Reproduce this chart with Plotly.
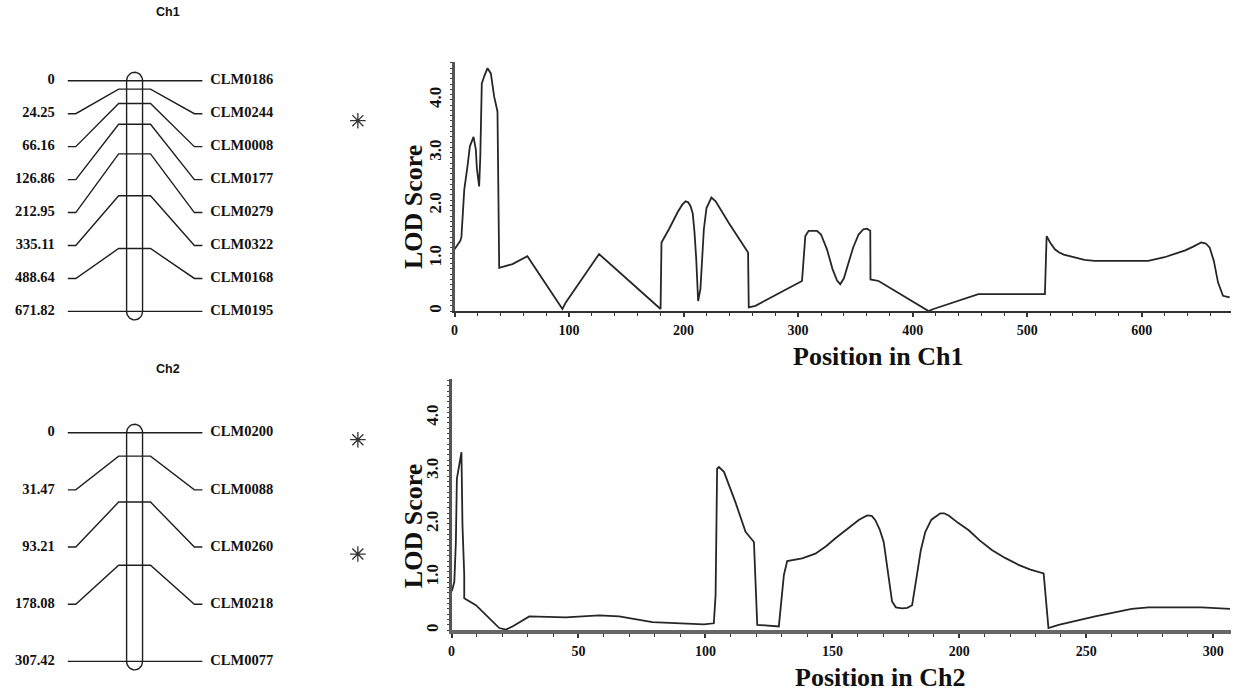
import math
import plotly.graph_objects as go

W, H = 1236, 692

# ---------------- data ----------------
ch1_markers = ["CLM0186", "CLM0244", "CLM0008", "CLM0177", "CLM0279", "CLM0322", "CLM0168", "CLM0195"]
ch1_pos = [0, 24.25, 66.16, 126.86, 212.95, 335.11, 488.64, 671.82]
ch2_markers = ["CLM0200", "CLM0088", "CLM0260", "CLM0218", "CLM0077"]
ch2_pos = [0, 31.47, 93.21, 178.08, 307.42]
qtl_flags_ch1 = ["CLM0244"]
qtl_flags_ch2 = ["CLM0200", "CLM0260"]

ch1_lod_x = [0, 5, 6, 8.5, 11.3, 13.4, 16.6, 18.6, 19.5, 21.5, 22.5, 23.8, 26, 28.8, 31.7, 34.6, 37.5,
             38.5, 39, 50.6, 63.6, 94.2, 97, 126.2, 179.9, 180.7, 187.2, 195, 199, 201.7, 204, 206,
             208, 209.5, 211, 212.7, 214.7, 217.7, 220, 224.3, 228, 239.5, 254, 256.3, 256.9, 262.7,
             303.4, 306.3, 309.2, 316.5, 320, 325.2, 330, 334, 336.8, 340, 344.1, 348, 352.8, 357,
             360.1, 363, 363.2, 370.3, 413.9, 418.2, 457.4, 515.5, 517, 520, 524.2, 528, 532, 541.7,
             550, 559, 580, 605.7, 620, 628.9, 638, 645, 652, 656, 659.4, 663, 666.7, 671, 676.8]
ch1_lod_y = [1.17, 1.33, 1.40, 2.30, 2.74, 3.12, 3.30, 3.06, 2.70, 2.36, 2.93, 4.31, 4.45, 4.60, 4.50,
             4.06, 3.78, 2.00, 0.82, 0.89, 1.04, 0.04, 0.16, 1.08, 0.04, 1.30, 1.55, 1.88, 2.02, 2.08,
             2.06, 1.99, 1.85, 1.50, 1.00, 0.19, 0.42, 1.55, 1.95, 2.15, 2.08, 1.67, 1.17, 1.11, 0.07,
             0.10, 0.57, 1.42, 1.52, 1.52, 1.45, 1.17, 0.80, 0.58, 0.51, 0.62, 0.92, 1.20, 1.45, 1.55,
             1.56, 1.52, 0.60, 0.57, 0.00, 0.04, 0.32, 0.32, 1.42, 1.30, 1.17, 1.11, 1.07, 1.01,
             0.97, 0.95, 0.95, 0.95, 1.02, 1.08, 1.15, 1.22, 1.30, 1.28, 1.20, 0.95, 0.54, 0.29, 0.26]

ch2_lod_x = [0.1, 1.1, 1.7, 2.1, 3.0, 3.9, 4.3, 5.0, 5.0, 9.6, 18.8, 21.4, 24.0, 30.6, 45.0, 58.1, 66.0,
             79.1, 99.4, 103.3, 104.0, 104.6, 105.3, 107.3, 111.8, 115.8, 119.1, 120.4, 128.9, 130.9,
             132.2, 138.1, 143.3, 147.5, 151.2, 154.5, 157.7, 160.5, 163.7, 165.5, 166.9, 168.6,
             170.2, 171.8, 173.5, 175, 177.4, 179.5, 181.4, 183.3, 184.8, 186.6, 189, 192.5, 194,
             195.8, 199.5, 203.7, 208, 212.8, 218, 223.3, 228, 233.2, 235.1, 239.1, 253.5, 267.9,
             274.5, 295.4, 306.6]
ch2_lod_y = [0.73, 0.91, 1.66, 2.85, 3.10, 3.35, 1.98, 1.04, 0.60, 0.47, 0.04, 0.01, 0.07, 0.26, 0.24,
             0.28, 0.26, 0.15, 0.11, 0.13, 0.66, 3.04, 3.07, 2.98, 2.41, 1.85, 1.66, 0.10, 0.07, 1.04,
             1.30, 1.35, 1.44, 1.58, 1.73, 1.86, 1.98, 2.08, 2.16, 2.15, 2.07, 1.90,
             1.66, 1.10, 0.54, 0.43, 0.41, 0.42, 0.47, 1.04, 1.50, 1.85, 2.08, 2.20, 2.20,
             2.16, 2.02, 1.88, 1.69, 1.51, 1.36, 1.23, 1.14, 1.07, 0.04, 0.10, 0.26, 0.40,
             0.43, 0.43, 0.40]

ch1_xticks = [0, 100, 200, 300, 400, 500, 600]
ch2_xticks = [0, 50, 100, 150, 200, 250, 300]
lod_tickvals = [0, 1, 2, 3, 4]
lod_ticktext = ["0", "1.0", "2.0", "3.0", "4.0"]

# ---------------- layout helpers ----------------
def ydom(top_px, bot_px):
    return [1 - bot_px / H, 1 - top_px / H]

def xdom(l_px, r_px):
    return [l_px / W, r_px / W]

SERIF = "Liberation Serif"
SANS = "Liberation Sans"
INK = "#1e1e1e"

fig = go.Figure()

# ---------------- linkage maps ----------------
MAP_W = 380  # map x axis in pixel-like units
maps = [
    dict(name="Ch1", markers=ch1_markers, pos=ch1_pos, flags=qtl_flags_ch1,
         top=81, bot=312.3, dom=(28, 345), xa="x3", ya="y3", title_y=12),
    dict(name="Ch2", markers=ch2_markers, pos=ch2_pos, flags=qtl_flags_ch2,
         top=434, bot=663.3, dom=(355, 690), xa="x4", ya="y4", title_y=370),
]

annotations = []
for m in maps:
    pos = m["pos"]
    n = len(pos)
    L = pos[-1]
    scale = (m["bot"] - m["top"]) / L  # px per cM
    lab = [i * L / (n - 1) for i in range(n)]
    # connector lines
    for i in range(n):
        fig.add_trace(go.Scatter(
            x=[64, 72, 115, 147, 191, 199],
            y=[lab[i], lab[i], pos[i], pos[i], lab[i], lab[i]],
            mode="lines", line=dict(color=INK, width=1.4),
            xaxis=m["xa"], yaxis=m["ya"], hoverinfo="skip", showlegend=False))
    # chromosome bar with rounded caps
    cap = 8.5 / scale
    xs, ys = [], []
    k = 16
    for j in range(k + 1):
        t = math.pi * j / k
        xs.append(131 - 8 * math.cos(t))
        ys.append(pos[0] - cap * math.sin(t))
    for j in range(k + 1):
        t = math.pi * j / k
        xs.append(131 + 8 * math.cos(t))
        ys.append(pos[-1] + cap * math.sin(t))
    xs.append(xs[0]); ys.append(ys[0])
    fig.add_trace(go.Scatter(x=xs, y=ys, mode="lines", line=dict(color=INK, width=1.4),
                             xaxis=m["xa"], yaxis=m["ya"], hoverinfo="skip", showlegend=False))
    # labels
    fig.add_trace(go.Scatter(x=[51] * n, y=lab, mode="text",
                             text=[("%g" % p) if p == 0 else ("%.2f" % p) for p in pos],
                             textposition="middle left",
                             textfont=dict(family=SERIF, size=14.5, color="#111", weight="bold"),
                             xaxis=m["xa"], yaxis=m["ya"], hoverinfo="skip", showlegend=False))
    fig.add_trace(go.Scatter(x=[207] * n, y=lab, mode="text", text=m["markers"],
                             textposition="middle right",
                             textfont=dict(family=SERIF, size=14.5, color="#111", weight="bold"),
                             xaxis=m["xa"], yaxis=m["ya"], hoverinfo="skip", showlegend=False))
    # QTL asterisks
    fy = [lab[m["markers"].index(f)] + 7 / scale for f in m["flags"]]
    fig.add_trace(go.Scatter(x=[355] * len(fy), y=fy, mode="markers",
                             marker=dict(symbol="asterisk-open", size=13, color="#333",
                                         line=dict(color="#333", width=1.3)),
                             xaxis=m["xa"], yaxis=m["ya"], hoverinfo="skip", showlegend=False))
    d0, d1 = m["dom"]
    rng = [(d1 - m["top"]) / scale, (d0 - m["top"]) / scale]
    fig.update_layout({
        ("xaxis" + m["xa"][1:]): dict(domain=xdom(0, MAP_W), range=[0, MAP_W], visible=False,
                                      anchor=m["ya"], fixedrange=True),
        ("yaxis" + m["ya"][1:]): dict(domain=ydom(d0, d1), range=rng, visible=False,
                                      anchor=m["xa"], fixedrange=True),
    })
    annotations.append(dict(text="<b>%s</b>" % m["name"], x=165 / W, y=1 - m["title_y"] / H,
                            xref="paper", yref="paper", showarrow=False,
                            font=dict(family=SANS, size=12.5, color="#111"),
                            xanchor="center", yanchor="middle"))

# ---------------- LOD curves ----------------
fig.add_trace(go.Scatter(x=ch1_lod_x, y=ch1_lod_y, mode="lines",
                         line=dict(color="#262626", width=1.8), xaxis="x", yaxis="y",
                         showlegend=False))
fig.add_trace(go.Scatter(x=ch2_lod_x, y=ch2_lod_y, mode="lines",
                         line=dict(color="#262626", width=1.8), xaxis="x2", yaxis="y2",
                         showlegend=False))

tickfont_x = dict(family=SERIF, size=14, color="#111", weight="bold")
tickfont_y = dict(family=SERIF, size=17, color="#111", weight="bold")

def xax(dom, rng, tv, minor_dt, lw, lc, anchor):
    return dict(domain=dom, range=rng, tickvals=tv, ticktext=[str(v) for v in tv],
                showline=True, linewidth=lw, linecolor=lc, showgrid=False, zeroline=False,
                ticks="outside", ticklen=4, tickwidth=1.5, tickcolor="#333",
                minor=dict(dtick=minor_dt, ticks="outside", ticklen=3, tickwidth=1.2,
                           tickcolor="#333", showgrid=False),
                tickfont=tickfont_x, ticklabelstandoff=1, anchor=anchor, fixedrange=True)

def yax(dom, rng, anchor):
    return dict(domain=dom, range=rng, tickvals=lod_tickvals, ticktext=lod_ticktext,
                tickangle=-90, showline=True, linewidth=3, linecolor="#555",
                showgrid=False, zeroline=False, ticks="outside", ticklen=2, tickwidth=1.2,
                tickcolor="#333",
                minor=dict(dtick=0.1, ticks="outside", ticklen=2, tickwidth=1,
                           tickcolor="#444", showgrid=False),
                tickfont=tickfont_y, ticklabelstandoff=2, anchor=anchor, fixedrange=True)

fig.update_layout(
    xaxis=xax(xdom(452, 1231), [0, 678], ch1_xticks, 20, 2.2, "#333", "y"),
    yaxis=yax(ydom(62, 312), [0, 4.72], "x"),
    xaxis2=xax(xdom(449, 1231), [0, 307], ch2_xticks, 10, 3.5, "#666", "y2"),
    yaxis2=yax(ydom(380, 632), [0, 4.73], "x2"),
)

title_font = dict(family=SERIF, size=26, color="#111", weight="bold")
for txt, xp, yp, ang in [("LOD Score", 411, 208, -90), ("LOD Score", 411, 528, -90),
                         ("Position in Ch1", 877, 358, 0), ("Position in Ch2", 879, 679, 0)]:
    annotations.append(dict(text=txt, x=xp / W, y=1 - yp / H, xref="paper", yref="paper",
                            showarrow=False, textangle=ang, font=title_font,
                            xanchor="center", yanchor="middle"))

fig.update_layout(
    width=W, height=H, margin=dict(l=0, r=0, t=0, b=0),
    paper_bgcolor="white", plot_bgcolor="white",
    annotations=annotations, showlegend=False,
)

fig.write_html("out.html", config={"displayModeBar": False})
